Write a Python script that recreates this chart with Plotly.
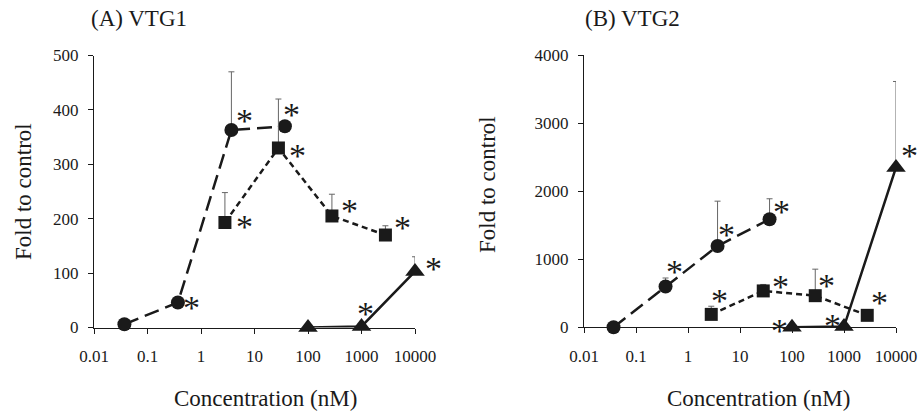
import numpy as np
import plotly.graph_objects as go

# ---------------- data ----------------
conc_circle = [0.037, 0.37, 3.7, 37]
conc_square = [2.8, 28, 280, 2800]
conc_triangle = [100, 1000, 10000]

# Panel A: VTG1
a_circle = [6, 46, 363, 370]
a_circle_err = [0, 0, 107, 0]
a_square = [193, 330, 205, 170]
a_square_err = [55, 90, 40, 17]
a_triangle = [0, 2, 103]
a_triangle_err = [0, 0, 27]

# Panel B: VTG2
b_circle = [0, 600, 1195, 1590]
b_circle_err = [0, 125, 660, 300]
b_square = [190, 535, 465, 176]
b_square_err = [120, 95, 390, 0]
b_triangle = [0, 10, 2350]
b_triangle_err = [0, 0, 1265]

x_ticks = [0.01, 0.1, 1, 10, 100, 1000, 10000]
x_tick_labels = ["0.01", "0.1", "1", "10", "100", "1000", "10000"]
a_y_ticks = [0, 100, 200, 300, 400, 500]
b_y_ticks = [0, 1000, 2000, 3000, 4000]

# significance marks (asterisks): True = significant
a_circle_sig = [False, True, True, True]
a_square_sig = [True, True, True, True]
a_triangle_sig = [False, True, True]
b_circle_sig = [False, True, True, True]
b_square_sig = [True, True, True, True]
b_triangle_sig = [True, True, True]

# ---------------- styles ----------------
FONT = "Liberation Serif, Times New Roman, DejaVu Serif, serif"
INK = "#1a1a1a"
ERR = "#666666"

# asterisk pixel offsets (dx, dy) from marker centre
a_circle_off = [(0, 0), (14, 3), (13, -12), (7, -14)]
a_square_off = [(20, 2), (19, 6), (18, -7), (17, -10)]
a_triangle_off = [(0, 0), (4, -15), (18, -5)]
b_circle_off = [(0, 0), (9, -17), (9, -14), (12, -10)]
b_square_off = [(8, -16), (17, -6), (11, -12), (12, -15)]
b_triangle_off = [(-13, 1), (-12, -3), (13, -14)]

fig = go.Figure()

series_style = {
    "circle": dict(symbol="circle", size=14, dash="15px,7px"),
    "square": dict(symbol="square", size=13, dash="6px,4px"),
    "triangle": dict(symbol="triangle-up", size=17, dash="solid"),
}


def add_series(x, y, err, kind, xa, ya):
    st = series_style[kind]
    fig.add_trace(go.Scatter(
        x=x, y=y, mode="lines+markers", xaxis=xa, yaxis=ya,
        line=dict(color=INK, width=2.5, dash=st["dash"]),
        marker=dict(symbol=st["symbol"], size=st["size"], color=INK,
                    line=dict(width=0)),
        error_y=dict(type="data", symmetric=False, array=err,
                     arrayminus=[0] * len(err), color=ERR,
                     thickness=1, width=3),
        cliponaxis=False, showlegend=False, hoverinfo="skip",
    ))


add_series(conc_circle, a_circle, a_circle_err, "circle", "x", "y")
add_series(conc_square, a_square, a_square_err, "square", "x", "y")
add_series(conc_triangle, a_triangle, a_triangle_err, "triangle", "x", "y")
add_series(conc_circle, b_circle, b_circle_err, "circle", "x2", "y2")
add_series(conc_square, b_square, b_square_err, "square", "x2", "y2")
add_series(conc_triangle, b_triangle, b_triangle_err, "triangle", "x2", "y2")

annotations = []


def add_stars(x, y, sig, offs, xa, ya):
    for xi, yi, s, (dx, dy) in zip(x, y, sig, offs):
        if not s:
            continue
        annotations.append(dict(
            x=np.log10(xi), y=yi, xref=xa, yref=ya, text="*",
            showarrow=False, xshift=dx, yshift=-dy - 2,
            font=dict(family=FONT, size=34, color=INK),
        ))


add_stars(conc_circle, a_circle, a_circle_sig, a_circle_off, "x", "y")
add_stars(conc_square, a_square, a_square_sig, a_square_off, "x", "y")
add_stars(conc_triangle, a_triangle, a_triangle_sig, a_triangle_off, "x", "y")
add_stars(conc_circle, b_circle, b_circle_sig, b_circle_off, "x2", "y2")
add_stars(conc_square, b_square, b_square_sig, b_square_off, "x2", "y2")
add_stars(conc_triangle, b_triangle, b_triangle_sig, b_triangle_off, "x2", "y2")

W, H = 920, 415


def px(xp):
    return xp / W


def py(yp):
    return 1 - yp / H


text_items = [
    ("(A) VTG1", 139, 18, 0, 23),
    ("(B) VTG2", 632, 18, 0, 23),
    ("Concentration (nM)", 265, 398, 0, 23),
    ("Concentration (nM)", 758, 398, 0, 23),
    ("Fold to control", 23, 192, -90, 23),
    ("Fold to control", 487, 185, -90, 23),
]
for t, xp, yp, ang, sz in text_items:
    annotations.append(dict(
        x=px(xp), y=py(yp), xref="paper", yref="paper", text=t,
        showarrow=False, textangle=ang, xanchor="center", yanchor="middle",
        font=dict(family=FONT, size=sz, color=INK),
    ))

axis_common = dict(
    showgrid=False, zeroline=False, showline=True, linecolor=INK,
    linewidth=1, ticks="outside", ticklen=5, tickcolor=INK, tickwidth=1,
    tickfont=dict(family=FONT, size=17, color=INK), automargin=False,
)

fig.update_layout(
    width=W, height=H,
    margin=dict(l=0, r=0, t=0, b=0, pad=0, autoexpand=False),
    paper_bgcolor="white", plot_bgcolor="white",
    font=dict(family=FONT, color=INK),
    annotations=annotations,
    xaxis=dict(type="log", range=[-2, 4], domain=[px(94), px(415)],
               tickvals=x_ticks, ticktext=x_tick_labels, anchor="y",
               ticklabelstandoff=8, **axis_common),
    yaxis=dict(range=[0, 500], domain=[py(327.5), py(55.5)],
               tickvals=a_y_ticks, anchor="x", ticklabelstandoff=6,
               **axis_common),
    xaxis2=dict(type="log", range=[-2, 4], domain=[px(584), px(896)],
                tickvals=x_ticks, ticktext=x_tick_labels, anchor="y2",
                ticklabelstandoff=8, **axis_common),
    yaxis2=dict(range=[0, 4000], domain=[py(327.3), py(55.3)],
                tickvals=b_y_ticks, anchor="x2", ticklabelstandoff=6,
                **axis_common),
)

fig.write_html("out.html")
